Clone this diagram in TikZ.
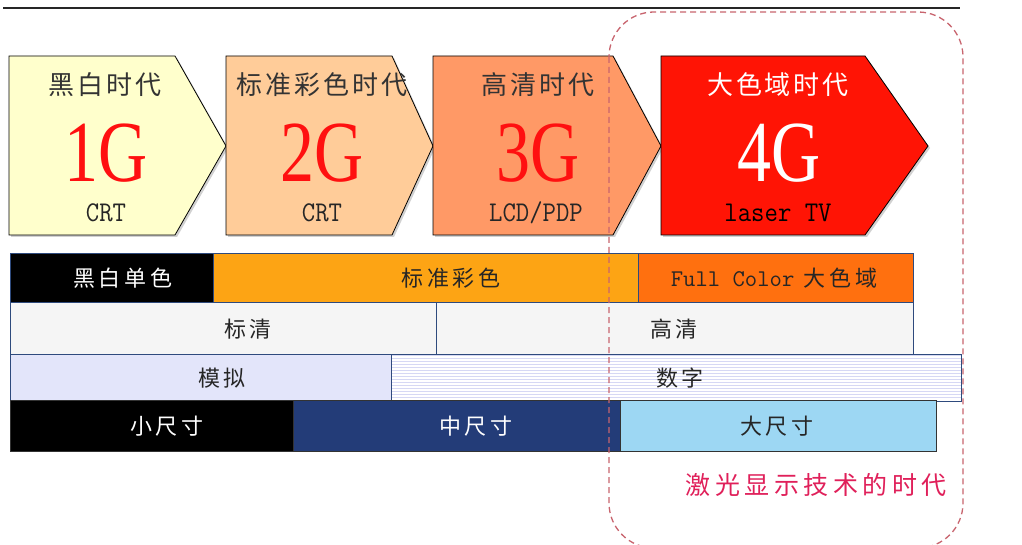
\documentclass[tikz,border=0pt]{standalone}
\usepackage{fontspec}
\newfontfamily\cjk[LetterSpace=11]{Noto Sans CJK SC}
\newfontfamily\cjkb[LetterSpace=18]{Noto Sans CJK SC}
\newfontfamily\serif{Liberation Serif}
\definecolor{cA}{HTML}{FFFFCC}
\definecolor{cB}{HTML}{FFCC99}
\definecolor{cC}{HTML}{FF9966}
\definecolor{cD}{HTML}{FF1405}
\definecolor{gred}{HTML}{FF1010}
\definecolor{lbl}{HTML}{333333}
\definecolor{borderc}{HTML}{2E4A7D}
\definecolor{orangebar}{HTML}{FDA414}
\definecolor{fullbar}{HTML}{FF700F}
\definecolor{lightbar}{HTML}{F5F5F5}
\definecolor{lavbar}{HTML}{E3E5FA}
\definecolor{stripec}{HTML}{D6D8F4}
\definecolor{navybar}{HTML}{233C78}
\definecolor{bluebar}{HTML}{9DD7F3}
\definecolor{dashc}{HTML}{C8646E}
\definecolor{laserc}{HTML}{E0205A}
\begin{document}
\begin{tikzpicture}[x=1pt,y=-1pt,
  penta/.style={draw=black,line width=0.8pt,line join=miter},
  shad/.style={fill=black!18},
  era/.style={font=\cjk\fontsize{26}{26}\selectfont,text=lbl,inner sep=0pt},
  gen/.style={font=\serif\fontsize{68}{68}\selectfont,text=gred,inner sep=0pt},
  tech/.style={font=\ttfamily\fontsize{26}{26}\selectfont,text=black!85,inner sep=0pt},
  bar/.style={draw=borderc,line width=0.8pt,inner sep=0pt,outer sep=0pt},
  barlbl/.style={font=\cjkb\fontsize{22}{22}\selectfont,text=black!85,inner sep=0pt}
]
\useasboundingbox (0,0) rectangle (1022,545);
\fill[white] (0,0) rectangle (1022,545);
% top rule
\draw[black!85,line width=1.6pt] (3,8) -- (960,8);

% shadows
\foreach \L/\C/\T in {9/175/226,226/392/433,433/613/661,661/865/928}{
  \fill[shad] (\L+2,58) -- (\C+2,58) -- (\T+2,148) -- (\C+2,237) -- (\L+2,237) -- cycle;
}
% pentagons
\draw[penta,fill=cA] (9,56) -- (175,56) -- (226,146) -- (175,235) -- (9,235) -- cycle;
\draw[penta,fill=cB] (226,56) -- (392,56) -- (433,146) -- (392,235) -- (226,235) -- cycle;
\draw[penta,fill=cC] (433,56) -- (613,56) -- (661,146) -- (613,235) -- (433,235) -- cycle;
\draw[penta,fill=cD] (661,56) -- (865,56) -- (928,146) -- (865,235) -- (661,235) -- cycle;

\node[era] (e1) at (105,85) {黑白时代};
\node[gen] (g1) at (106,153) {\scalebox{1}[1.28]{1G}};
\node[tech] (t1) at (106,213) {\scalebox{1}[1.1]{CRT}};

\node[era] (e2) at (322,85) {标准彩色时代};
\node[gen] (g2) at (322,153) {\scalebox{1}[1.28]{2G}};
\node[tech] (t2) at (322,213) {\scalebox{1}[1.1]{CRT}};

\node[era] (e3) at (538,85) {高清时代};
\node[gen] (g3) at (538,153) {\scalebox{1}[1.28]{3G}};
\node[tech] (t3) at (536,213) {\scalebox{1}[1.1]{LCD/PDP}};

\node[era,text=white] (e4) at (778,85) {大色域时代};
\node[gen,text=white] (g4) at (779,153) {\scalebox{1}[1.28]{4G}};
\node[tech,text=black] (t4) at (778,213) {\scalebox{1}[1.1]{laser TV}};

% row 1
\node[bar,fill=black,minimum width=203pt,minimum height=49pt] (bw) at (111.5,277.5) {};
\node[bar,fill=orangebar,minimum width=425pt,minimum height=49pt] (std) at (425.5,277.5) {};
\node[bar,fill=fullbar,minimum width=275pt,minimum height=49pt] (full) at (775.5,277.5) {};
% row 2
\node[bar,fill=lightbar,minimum width=426pt,minimum height=52pt] (sd) at (223,328) {};
\node[bar,fill=lightbar,minimum width=477pt,minimum height=52pt] (hd) at (674.5,328) {};
% row 3
\node[bar,fill=lavbar,minimum width=381pt,minimum height=46pt] (ana) at (200.5,377) {};
\node[bar,fill=white,minimum width=570pt,minimum height=47pt,
  path picture={\foreach \i in {1.5,4.5,...,46}{
     \draw[stripec,line width=1.5pt] ([yshift=-\i pt]path picture bounding box.north west) -- ([yshift=-\i pt]path picture bounding box.north east);}}] (dig) at (676,377.5) {};
% row 4
\node[bar,draw=black!80,fill=black,minimum width=283pt,minimum height=51pt] (small) at (151.5,425.5) {};
\node[bar,draw=black!80,fill=navybar,minimum width=327pt,minimum height=51pt] (mid) at (456.5,425.5) {};
\node[bar,draw=black!80,fill=bluebar,minimum width=316pt,minimum height=51pt] (large) at (778,425.5) {};

% bar labels
\node[barlbl,text=white] (lbw) at (123,278) {黑白单色};
\node[barlbl] (lstd) at (451,278) {标准彩色};
\node[barlbl] (lfull) at (774,278) {{\ttfamily\fontsize{24}{24}\selectfont Full Color} 大色域};
\node[barlbl] (lsd) at (248,329) {标清};
\node[barlbl] (lhd) at (674,329) {高清};
\node[barlbl] (lana) at (222,378) {模拟};
\node[barlbl] (ldig) at (680,378) {数字};
\node[barlbl,text=white] (lsmall) at (167,426) {小尺寸};
\node[barlbl,text=white] (lmid) at (476,426) {中尺寸};
\node[barlbl] (llarge) at (777,426) {大尺寸};

% laser era region
\draw[dashc,line width=1.3pt,dash pattern=on 6pt off 4pt,rounded corners=45pt] (609,12) rectangle (963,548);
\node[font=\cjkb\fontsize{25}{25}\selectfont,text=laserc,inner sep=0pt] (laser) at (816,485) {激光显示技术的时代};
\end{tikzpicture}
\end{document}
